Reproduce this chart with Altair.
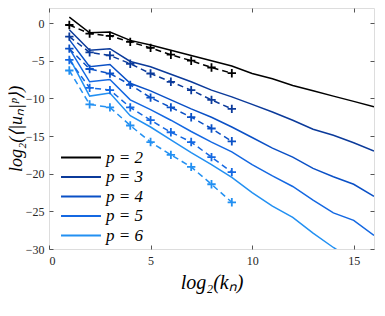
import altair as alt
import pandas as pd

# ---- data ----
labels = ["p = 2", "p = 3", "p = 4", "p = 5", "p = 6"]
colors = ["#000000", "#0b3a9a", "#0a50c6", "#1468e2", "#2290f2"]

x_solid = list(range(1, 17))
p2_solid = [0.8, -1.3, -1.2, -2.3, -2.9, -3.6, -4.3, -5.0, -5.7, -6.7, -7.4, -8.3, -9.0, -9.7, -10.4, -11.1]
p3_solid = [-0.9, -3.6, -3.4, -5.1, -5.8, -6.8, -7.8, -8.9, -9.8, -10.8, -11.8, -12.9, -14.1, -14.9, -15.9, -17.0]
p4_solid = [-2.2, -5.8, -5.5, -8.0, -9.0, -10.2, -11.4, -12.5, -13.8, -15.2, -16.6, -17.8, -19.3, -20.4, -21.4, -23.0]
p5_solid = [-3.4, -7.8, -7.5, -10.2, -11.5, -12.9, -14.4, -15.8, -17.1, -18.8, -20.3, -21.7, -23.5, -25.2, -26.2, -28.2]
p6_solid = [-4.6, -9.7, -9.3, -12.3, -13.8, -15.5, -17.2, -18.8, -20.5, -22.5, -24.3, -25.8, -27.9, -29.8, -31.5, -33.2]

x_dash = list(range(1, 10))
p2_dash = [-0.26, -1.4, -1.7, -2.5, -3.3, -4.2, -5.0, -5.9, -6.66]
p3_dash = [-1.8, -3.9, -4.3, -5.4, -6.7, -7.8, -8.9, -10.2, -11.4]
p4_dash = [-3.4, -6.1, -6.7, -8.2, -9.9, -11.2, -12.5, -14.0, -15.7]
p5_dash = [-4.9, -8.6, -8.9, -11.2, -12.9, -14.5, -15.8, -17.8, -19.8]
p6_dash = [-6.3, -10.8, -11.2, -13.6, -15.8, -17.5, -19.1, -21.4, -23.8]

x_ticks = [0, 5, 10, 15]
y_ticks = [0, -5, -10, -15, -20, -25, -30]

solid_series = [p2_solid, p3_solid, p4_solid, p5_solid, p6_solid]
dash_series = [p2_dash, p3_dash, p4_dash, p5_dash, p6_dash]

solid_df = pd.DataFrame(
    [{"x": x, "y": y, "p": lab} for lab, ys in zip(labels, solid_series) for x, y in zip(x_solid, ys)]
)
dash_df = pd.DataFrame(
    [{"x": x, "y": y, "p": lab} for lab, ys in zip(labels, dash_series) for x, y in zip(x_dash, ys)]
)

FONT = "Liberation Serif"
xscale = alt.Scale(domain=[0, 16], nice=False, zero=False)
yscale = alt.Scale(domain=[-30, 2], nice=False, zero=False)
cscale = alt.Scale(domain=labels, range=colors)

solid = alt.Chart(solid_df).mark_line(strokeWidth=1.5, clip=True).encode(
    x=alt.X("x:Q", scale=xscale, axis=alt.Axis(
        orient="bottom", values=x_ticks, offset=-4, tickSize=4, domain=False, grid=False,
        labelPadding=6, title="log₂(kₙ)", titleFont=FONT, titleFontSize=20,
        titleFontStyle="italic", titleFontWeight="normal", titlePadding=6,
        labelFont=FONT, labelFontSize=12, labelColor="#262626", tickColor="#555")),
    y=alt.Y("y:Q", scale=yscale, axis=alt.Axis(
        orient="left", values=y_ticks, offset=-4, tickSize=4, domain=False, grid=False,
        labelPadding=5, title="log₂(⟨|uₙ|ᵖ⟩)", titleFont=FONT, titleFontSize=18,
        titleFontStyle="italic", titleFontWeight="normal", titlePadding=0,
        labelFont=FONT, labelFontSize=12, labelColor="#262626", tickColor="#555")),
    color=alt.Color("p:N", scale=cscale, legend=alt.Legend(
        orient="none", legendX=22.5, legendY=140, title=None,
        symbolType="M-2.35,0L2.35,0", symbolSize=289, symbolStrokeWidth=2,
        labelFont=FONT, labelFontSize=17, labelFontStyle="italic", labelColor="#000",
        padding=0, rowPadding=1.5, labelOffset=15.5)),
)

dashed = alt.Chart(dash_df).mark_line(strokeWidth=1.5, strokeDash=[6, 4], clip=True).encode(
    x=alt.X("x:Q", scale=xscale, axis=alt.Axis(
        orient="top", values=x_ticks, offset=-4, tickSize=4, domain=False, grid=False,
        labels=False, title="", tickColor="#555")),
    y=alt.Y("y:Q", scale=yscale, axis=alt.Axis(
        orient="right", values=y_ticks, offset=-4, tickSize=4, domain=False, grid=False,
        labels=False, title="", tickColor="#555")),
    color=alt.Color("p:N", scale=cscale, legend=None),
)

markers = alt.Chart(dash_df).mark_point(
    shape="M-1,0L1,0M0,-1L0,1", size=70, filled=False, strokeWidth=1.8, opacity=1, clip=True
).encode(
    x=alt.X("x:Q", scale=xscale, axis=None),
    y=alt.Y("y:Q", scale=yscale, axis=None),
    color=alt.Color("p:N", scale=cscale, legend=None),
)

chart = alt.layer(solid, dashed, markers).resolve_axis(x="independent", y="independent").properties(
    width=325, height=241, autosize=alt.AutoSizeParams(type="none"),
    padding={"left": 41, "top": 0, "right": 3, "bottom": 55},
).configure_view(stroke="#555", strokeWidth=1).configure(background="white")

chart.save("out.html", embed_options={"renderer": "svg", "actions": False})
